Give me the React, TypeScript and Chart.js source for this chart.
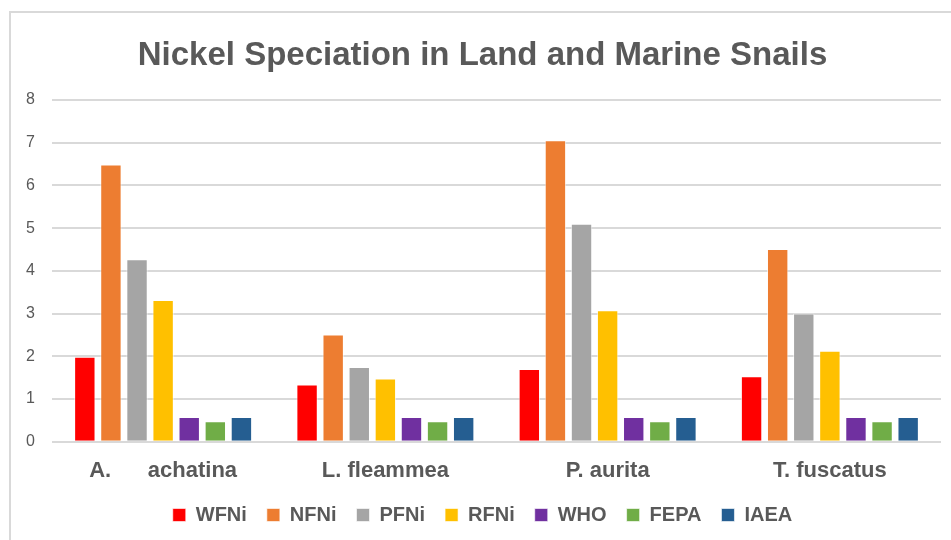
import React, { useEffect, useRef } from "react";
import { Chart, registerables } from "chart.js";

Chart.register(...registerables);

const categories = ["A.      achatina", "L. fleammea", "P. aurita", "T. fuscatus"];
const seriesNames = ["WFNi", "NFNi", "PFNi", "RFNi", "WHO", "FEPA", "IAEA"];
const seriesColors = ["#ff0000", "#ed7d31", "#a5a5a5", "#ffc000", "#7030a0", "#70ad47", "#255e91"];
const wfni = [1.99, 1.34, 1.7, 1.53];
const nfni = [6.49, 2.51, 7.06, 4.51];
const pfni = [4.27, 1.75, 5.1, 3.0];
const rfni = [3.32, 1.48, 3.08, 2.13];
const who = [0.58, 0.58, 0.58, 0.58];
const fepa = [0.48, 0.48, 0.48, 0.48];
const iaea = [0.58, 0.58, 0.58, 0.58];
const seriesValues = [wfni, nfni, pfni, rfni, who, fepa, iaea];
const yTicks = [0, 1, 2, 3, 4, 5, 6, 7, 8];

const frame = {
  id: "frame",
  beforeDraw(chart: any) {
    const ctx = chart.ctx;
    ctx.save();
    ctx.fillStyle = "#ffffff";
    ctx.fillRect(0, 0, chart.width, chart.height);
    ctx.strokeStyle = "#d9d9d9";
    ctx.lineWidth = 2;
    ctx.strokeRect(10, 12, 1200, 1200);
    ctx.restore();
  },
};

export default function App() {
  const ref = useRef<HTMLCanvasElement>(null);
  useEffect(() => {
    if (!ref.current) return;
    const chart = new Chart(ref.current, {
      type: "bar",
      data: {
        labels: categories,
        datasets: seriesNames.map((n, i) => ({
          label: n,
          data: seriesValues[i],
          backgroundColor: seriesColors[i],
          borderColor: "rgba(255,255,255,0.6)",
          borderWidth: 1,
          categoryPercentage: 0.822,
          barPercentage: 0.82,
        })),
      },
      options: {
        responsive: false,
        animation: false,
        layout: { padding: { left: 24, right: 10, top: 0, bottom: 5 } },
        plugins: {
          title: {
            display: true,
            text: "Nickel Speciation in Land and Marine Snails",
            color: "#595959",
            font: { family: "'Liberation Sans', Arial", size: 33, weight: "bold" },
            padding: { top: 36, bottom: 24.4 },
          },
          legend: {
            position: "bottom",
            labels: {
              boxWidth: 13,
              boxHeight: 13,
              padding: 20,
              color: "#595959",
              font: { family: "'Liberation Sans', Arial", size: 20, weight: "bold" },
            },
          },
          tooltip: { enabled: false },
        },
        scales: {
          x: {
            grid: { display: false, drawTicks: false },
            border: { display: false },
            ticks: {
              color: "#595959",
              padding: 16,
              font: { family: "'Liberation Sans', Arial", size: 22, weight: "bold" },
              maxRotation: 0,
              autoSkip: false,
            },
            afterFit(scale: any) {
              scale.height = 43.3;
            },
          },
          y: {
            min: 0,
            max: 8,
            afterBuildTicks(scale: any) {
              scale.ticks = yTicks.map((v) => ({ value: v }));
            },
            grid: { color: "#d9d9d9", lineWidth: 2, drawTicks: false },
            border: { display: false },
            ticks: {
              color: "#595959",
              padding: 17,
              font: { family: "'Liberation Sans', Arial", size: 16 },
            },
            afterFit(scale: any) {
              scale.width = 28;
            },
          },
        },
      },
      plugins: [frame],
    });
    return () => chart.destroy();
  }, []);
  return (
    <div style={{ position: "absolute", left: 0, top: 0, width: 951, height: 540 }}>
      <canvas ref={ref} width={951} height={540} />
    </div>
  );
}
